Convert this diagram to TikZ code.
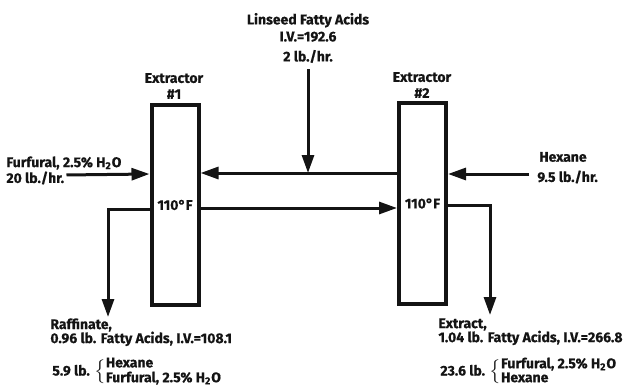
\documentclass[tikz,border=0pt]{standalone}
\usepackage{fontspec}
\setmainfont{Fira Sans}[BoldFeatures={FakeBold=0.6}]
\usepackage{tikz}
\usetikzlibrary{arrows.meta,calc,positioning}
\definecolor{inkblack}{HTML}{141414}
\tikzset{every node/.append style={font=\bfseries\fontsize{7}{7}\selectfont,text=inkblack}}
\tikzset{
  vessel/.style={draw=inkblack,line width=2pt,minimum width=23.5pt,minimum height=100pt,inner sep=0pt},
  flow/.style={draw=inkblack,line width=1.5pt,-{Triangle[length=9pt,width=6pt]}},
  lbl/.style={inner sep=0pt,align=left},
}
\newcommand{\water}{H\textsubscript{2}O}
\newcommand{\mixbrace}[1]{$\delimiterfactor=720\left\{\renewcommand\arraystretch{1.0}\begin{tabular}{@{}l@{}}#1\end{tabular}\right.$}

\begin{document}
\begin{tikzpicture}[x=0.5pt,y=-0.5pt]
  \useasboundingbox (0,0) rectangle (642,385);
  % the two extractors
  \node[vessel] (ex1) at (175,205) {110°F};
  \node[vessel] (ex2) at (422.5,203.5) {110°F};
  \node[lbl,align=center] (ex1lbl) at (174,86) {Extractor\\[1pt]\#1};
  \node[lbl,align=center] (ex2lbl) at (422,85) {Extractor\\[1pt]\#2};
  % feeds
  \node[lbl,align=center] (linseed) at (308,38) {Linseed Fatty Acids\\[1.5pt]I.V.=192.6\\[3pt]2 lb./hr.};
  \node[lbl,anchor=west] (furf) at (6,163) {Furfural, 2.5\% \water};
  \node[lbl,anchor=west] (furfrate) at (6,178) {20 lb./hr.};
  \node[lbl] (hexane) at (563,157) {Hexane};
  \node[lbl,anchor=west] (hexrate) at (537,177) {9.5 lb./hr.};
  % products
  \node[lbl,anchor=north west] (raff) at (50,318) {Raffinate,\\0.96 lb. Fatty Acids, I.V.=108.1};
  \node[lbl,anchor=west] (raffmix) at (52,372) {5.9 lb. \mixbrace{Hexane\\Furfural, 2.5\% \water}};
  \node[lbl,anchor=north west] (ext) at (438,318) {Extract,\\1.04 lb. Fatty Acids, I.V.=266.8};
  \node[lbl,anchor=west] (extmix) at (440,372) {23.6 lb. \mixbrace{Furfural, 2.5\% \water\\Hexane}};
  % streams
  \coordinate (feed) at (308,173);
  \coordinate (mid) at (300,208);
  \coordinate (raffout) at (108,317);
  \coordinate (extout) at (490,315);
  \draw[flow,shorten <=3pt] (linseed) -- (feed);
  \draw[flow] (ex2.west |- feed) -- (ex1.east |- feed);
  \draw[flow,shorten <=1pt] ([yshift=1.5pt]furfrate.east) -- (ex1.west |- 0,174);
  \draw[flow,shorten <=4pt] (hexrate.west |- 0,174) -- (ex2.east |- 0,174);
  \draw[flow] (ex1.east |- mid) -- (ex2.west |- mid);
  \draw[flow] ([yshift=-2pt]ex1.west) -| (raffout);
  \draw[flow] ([yshift=-1pt]ex2.east) -| (extout);
\end{tikzpicture}
\end{document}
